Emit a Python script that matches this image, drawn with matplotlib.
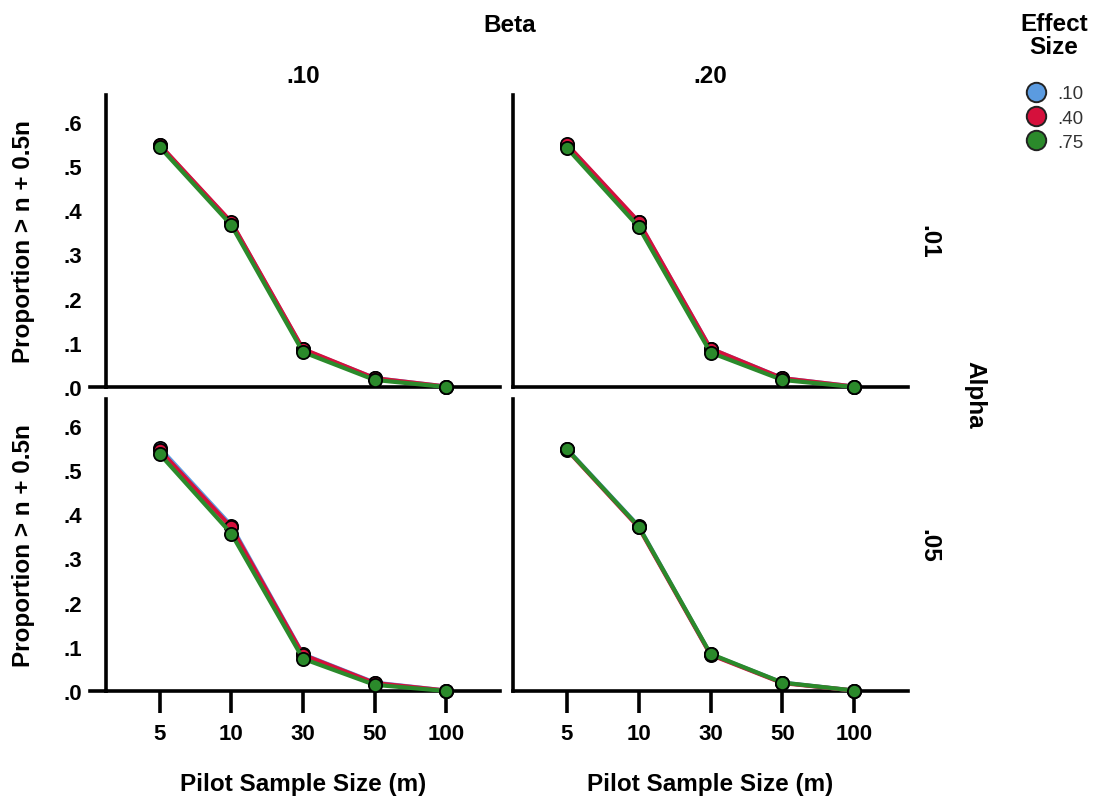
import matplotlib
matplotlib.use("Agg")
import matplotlib.pyplot as plt
from matplotlib.lines import Line2D

plt.rcParams['font.family'] = ['Liberation Sans', 'DejaVu Sans']

pilot_sizes = ["5", "10", "30", "50", "100"]
effect_sizes = [".10", ".40", ".75"]
colors = ["#5b9be0", "#d5103c", "#2b8a2b"]
beta_levels = [".10", ".20"]
alpha_levels = [".01", ".05"]
ytick_labels = [".0", ".1", ".2", ".3", ".4", ".5", ".6"]

# values per panel (alpha, beta) -> series per effect size
a01_b10_es10 = [0.547, 0.372, 0.085, 0.020, 0.001]
a01_b10_es40 = [0.548, 0.373, 0.086, 0.020, 0.001]
a01_b10_es75 = [0.543, 0.366, 0.079, 0.016, 0.000]

a01_b20_es10 = [0.548, 0.373, 0.087, 0.020, 0.001]
a01_b20_es40 = [0.549, 0.374, 0.087, 0.020, 0.001]
a01_b20_es75 = [0.541, 0.362, 0.078, 0.016, 0.000]

a05_b10_es10 = [0.550, 0.374, 0.083, 0.019, 0.001]
a05_b10_es40 = [0.545, 0.370, 0.082, 0.018, 0.001]
a05_b10_es75 = [0.536, 0.356, 0.073, 0.014, 0.000]

a05_b20_es10 = [0.548, 0.373, 0.083, 0.019, 0.001]
a05_b20_es40 = [0.546, 0.370, 0.082, 0.018, 0.001]
a05_b20_es75 = [0.547, 0.372, 0.084, 0.019, 0.001]

panels = {
    (0, 0): [a01_b10_es10, a01_b10_es40, a01_b10_es75],
    (0, 1): [a01_b20_es10, a01_b20_es40, a01_b20_es75],
    (1, 0): [a05_b10_es10, a05_b10_es40, a05_b10_es75],
    (1, 1): [a05_b20_es10, a05_b20_es40, a05_b20_es75],
}

W, H = 1097, 803
fig = plt.figure(figsize=(W / 100, H / 100), dpi=100)

lefts = [106, 513]
rights = [500, 908]
tops = [96, 400]
bottoms = [388, 692]

LBL = 17.5
TCK = 16

xs = list(range(len(pilot_sizes)))
yticks = [i / 10 for i in range(7)]

for (r, c), series in panels.items():
    l, rr = lefts[c], rights[c]
    t, b = tops[r], bottoms[r]
    ax = fig.add_axes([l / W, 1 - b / H, (rr - l) / W, (b - t) / H])
    for vals, col in zip(series, colors):
        ax.plot(xs, vals, color=col, lw=3, marker='o', ms=9.5,
                mfc=col, mec='black', mew=1.3, clip_on=False, zorder=3)
    ax.set_xlim(-0.75, 4.75)
    ax.set_ylim(0, (b - t) / 44.2 / 10)
    for s in ['top', 'right']:
        ax.spines[s].set_visible(False)
    for s in ['left', 'bottom']:
        ax.spines[s].set_linewidth(2.6)
    ax.set_yticks(yticks)
    if c == 0:
        ax.set_yticklabels(ytick_labels, fontsize=TCK, fontweight='bold')
        ax.tick_params(axis='y', length=0, pad=17)
        fig.text(24 / W, 1 - (t + b) / 2 / H, "Proportion > n + 0.5n", fontsize=LBL,
                 fontweight='bold', rotation=90, ha='center', va='center')
        ax.add_line(Line2D([-16 / (rr - l), 0], [0, 0], transform=ax.transAxes,
                           color='black', lw=2.6, clip_on=False))
    else:
        ax.set_yticklabels([])
        ax.tick_params(axis='y', length=0)
    ax.set_xticks(xs)
    if r == 1:
        ax.set_xticklabels(pilot_sizes, fontsize=TCK, fontweight='bold')
        ax.tick_params(axis='x', length=16, width=2.6, direction='out', pad=7)
        fig.text((l + rr) / 2 / W, 1 - 785 / H, "Pilot Sample Size (m)", fontsize=LBL,
                 fontweight='bold', ha='center', va='center')
    else:
        ax.set_xticklabels([])
        ax.tick_params(axis='x', length=0)
    if r == 0:
        ax.set_title(beta_levels[c], fontsize=LBL, fontweight='bold', pad=9)
    if c == 1:
        ax.text(1.052, 0.5, alpha_levels[r], transform=ax.transAxes, rotation=-90,
                fontsize=LBL, fontweight='bold', ha='center', va='center')

fig.text(510 / W, 1 - 25 / H, "Beta", fontsize=LBL, fontweight='bold', ha='center', va='center')
fig.text(975 / W, 1 - 395 / H, "Alpha", fontsize=LBL, fontweight='bold', ha='center', va='center', rotation=-90)

# legend
fig.text(1054 / W, 1 - 36 / H, "Effect\nSize", fontsize=LBL, fontweight='bold',
         ha='center', va='center', linespacing=1.0)
handles = [Line2D([], [], ls='none', marker='o', ms=14, mfc=col, mec='#222222', mew=1.4)
           for col in colors]
leg = fig.legend(handles, effect_sizes, loc='upper left', bbox_to_anchor=(1016 / W, 1 - 77 / H),
                 frameon=False, fontsize=13.5, handletextpad=0.6, labelspacing=0.38,
                 handlelength=1.1, borderpad=0)
for t in leg.get_texts():
    t.set_color('#333333')

fig.savefig("out.png", dpi=100)
